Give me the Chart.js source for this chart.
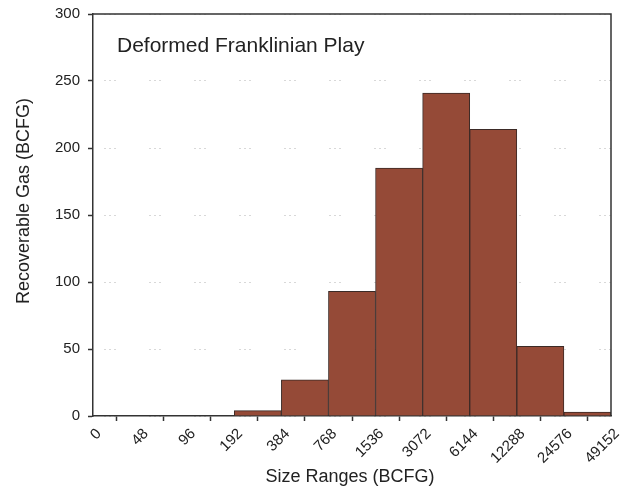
<!DOCTYPE html>
<html>
<head>
<meta charset="utf-8">
<script src="https://cdn.jsdelivr.net/npm/chart.js@4"></script>
<style>
  html, body { margin: 0; padding: 0; background: #fff; }
  #wrap { width: 632px; height: 489px; position: relative; }
</style>
</head>
<body>
<div id="wrap"><canvas id="histChart"></canvas></div>
<script>
// ── Data ──────────────────────────────────────────────────
const BIN_EDGES  = ['0','48','96','192','384','768','1536','3072','6144','12288','24576','49152'];
const BIN_VALUES = [0, 0, 0, 4, 27, 93, 185, 241, 214, 52, 3];
const Y_TICKS    = [0, 50, 100, 150, 200, 250, 300];

const PLAY_LABEL = 'Deformed Franklinian Play';
const X_TITLE    = 'Size Ranges (BCFG)';
const Y_TITLE    = 'Recoverable Gas (BCFG)';

const FONT  = "'Liberation Sans', Arial, sans-serif";
const INK   = '#222';
const AXIS  = '#333';

// bars sit between two edges -> centre at i + 0.5 on a linear axis
const points = BIN_VALUES.map((v, i) => ({ x: i + 0.5, y: v }));

// ── Frame + titles (drawn on top) ─────────────────────────
const framePlugin = {
  id: 'frame',
  afterDraw(chart) {
    const { ctx, chartArea: a } = chart;
    ctx.save();
    ctx.strokeStyle = AXIS;
    ctx.lineWidth = 1.5;
    ctx.beginPath();
    ctx.moveTo(a.left, a.top);
    ctx.lineTo(a.right, a.top);
    ctx.lineTo(a.right, a.bottom);
    ctx.stroke();

    ctx.fillStyle = INK;
    ctx.font = '21px ' + FONT;
    ctx.textAlign = 'left';
    ctx.textBaseline = 'alphabetic';
    ctx.fillText(PLAY_LABEL, 117, 52);

    ctx.font = '18px ' + FONT;
    ctx.textAlign = 'center';
    ctx.fillText(X_TITLE, (a.left + a.right) / 2 - 2, 482);

    ctx.translate(29, 201);
    ctx.rotate(-Math.PI / 2);
    ctx.fillText(Y_TITLE, 0, 0);
    ctx.restore();
  }
};

new Chart(document.getElementById('histChart'), {
  type: 'bar',
  data: {
    datasets: [{
      data: points,
      backgroundColor: '#954a37',
      borderColor: '#3b2a26',
      borderWidth: 1,
      barPercentage: 1,
      categoryPercentage: 1,
    }]
  },
  options: {
    responsive: true, maintainAspectRatio: false,
    animation: false,
    layout: { padding: { top: 14, right: 21, left: 0, bottom: 0 } },
    plugins: { legend: { display: false }, tooltip: { enabled: false } },
    scales: {
      x: {
        type: 'linear', min: 0, max: BIN_EDGES.length - 1, offset: false,
        afterBuildTicks: s => { s.ticks = BIN_EDGES.map((_, i) => ({ value: i })); },
        ticks: {
          callback: (v) => BIN_EDGES[v],
          autoSkip: false, minRotation: 45, maxRotation: 45,
          padding: 4, labelOffset: 6,
          color: INK, font: { family: FONT, size: 15 },
        },
        grid: { drawOnChartArea: false, tickLength: 5, tickColor: AXIS, tickWidth: 1.5 },
        border: { color: AXIS, width: 1.5 },
        afterFit: s => { s.height = 73; s.paddingLeft = 0; s.paddingRight = 0; },
      },
      y: {
        min: 0, max: 300,
        afterBuildTicks: s => { s.ticks = Y_TICKS.map(v => ({ value: v })); },
        ticks: { padding: 8, color: INK, font: { family: FONT, size: 15 } },
        grid: {
          color: '#b0b0b0', lineWidth: 1,
          tickLength: 5, tickColor: AXIS, tickWidth: 1.5,
        },
        // in v4 the dash of the grid lines lives under border
        border: { color: AXIS, width: 1.5, dash: [1, 4, 1, 4, 1, 34], dashOffset: 34 },
        afterFit: s => { s.width = 93; s.paddingTop = 0; s.paddingBottom = 0; },
      }
    }
  },
  plugins: [framePlugin]
});
</script>
</body>
</html>
